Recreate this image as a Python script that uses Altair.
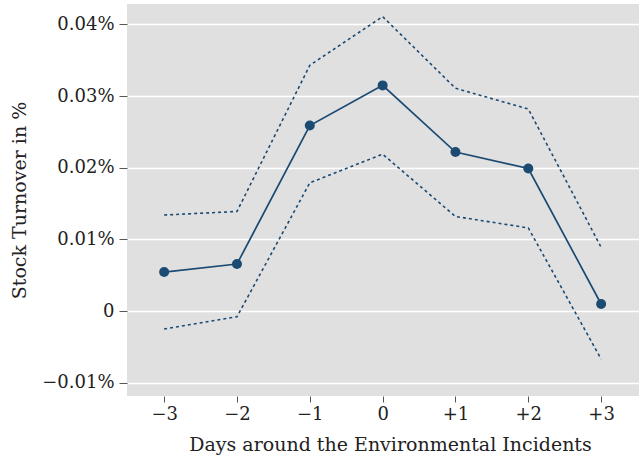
import altair as alt
import pandas as pd

# Event-study estimates of stock turnover (in %) with confidence bands
days = [-3, -2, -1, 0, 1, 2, 3]
estimate = [0.00544, 0.00656, 0.0259, 0.0315, 0.0222, 0.0199, 0.00098]
upper = [0.0134, 0.0139, 0.0343, 0.0411, 0.0311, 0.0282, 0.0089]
lower = [-0.0025, -0.0008, 0.0179, 0.0219, 0.0132, 0.0116, -0.0067]

df = pd.DataFrame({"day": days, "estimate": estimate, "upper": upper, "lower": lower})

FONT = "DejaVu Serif"
NAVY = "#1b4a73"

x = alt.X(
    "day:Q",
    scale=alt.Scale(domain=[-3.51, 3.52], nice=False, zero=False),
    axis=alt.Axis(
        values=days,
        labelExpr="datum.value > 0 ? '+' + datum.value : replace(format(datum.value, 'd'), '-', '\u2212')",
        title="Days around the Environmental Incidents",
        grid=False,
        domain=False,
        tickSize=6,
        tickColor="#555555",
        labelFontSize=18,
        labelPadding=3,
        titleFontSize=19,
        titlePadding=12,
        titleX=263,
        titleFontWeight="normal",
    ),
)

y_axis = alt.Axis(
    values=[-0.01, 0, 0.01, 0.02, 0.03, 0.04],
    labelExpr="datum.value == 0 ? '0' : replace(format(datum.value, '.2f') + '%', '-', '\u2212')",
    title="Stock Turnover in %",
    grid=True,
    gridColor="white",
    gridWidth=1.5,
    domain=False,
    tickSize=8,
    tickColor="#555555",
    labelFontSize=18,
    labelPadding=5,
    titleFontSize=19,
    titlePadding=12,
    titleFontWeight="normal",
)
y_scale = alt.Scale(domain=[-0.01186, 0.04286], nice=False, zero=False)

base = alt.Chart(df)

band_upper = base.mark_line(color=NAVY, strokeDash=[3, 3], strokeWidth=1.6).encode(
    x=x, y=alt.Y("upper:Q", scale=y_scale, axis=y_axis)
)
band_lower = base.mark_line(color=NAVY, strokeDash=[3, 3], strokeWidth=1.6).encode(
    x=x, y=alt.Y("lower:Q", scale=y_scale)
)
line = base.mark_line(color=NAVY, strokeWidth=1.7).encode(
    x=x, y=alt.Y("estimate:Q", scale=y_scale)
)
points = base.mark_circle(color=NAVY, size=100, opacity=1).encode(
    x=x, y=alt.Y("estimate:Q", scale=y_scale)
)

chart = (
    alt.layer(band_upper, band_lower, line, points)
    .properties(
        width=512,
        height=392,
        autosize=alt.AutoSizeParams(type="none"),
        padding={"left": 127, "top": 4, "right": 0, "bottom": 64},
        background="white",
    )
    .configure_view(fill="#e0e0e0", stroke=None)
    .configure_axis(labelFont=FONT, titleFont=FONT, labelColor="#222222", titleColor="#222222")
)

chart.save("out.html", embed_options={"renderer": "svg", "actions": False})
